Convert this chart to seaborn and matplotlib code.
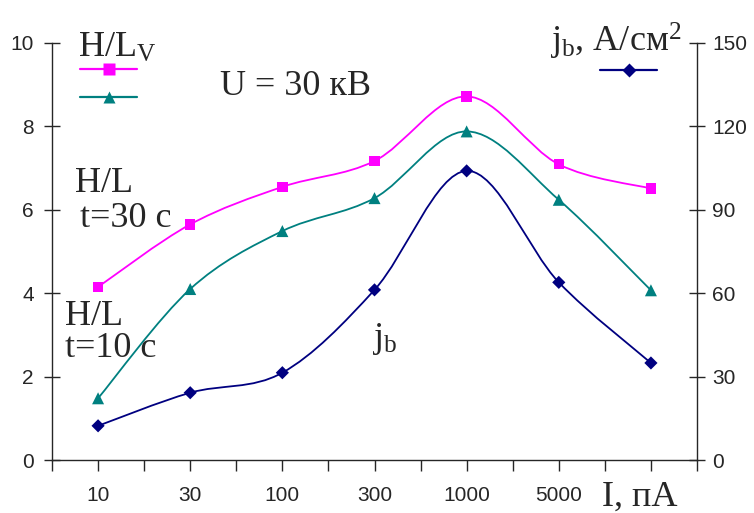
import matplotlib
matplotlib.use("Agg")
import matplotlib.pyplot as plt
from matplotlib.path import Path
from matplotlib.patches import PathPatch
from matplotlib.lines import Line2D
import numpy as np
import pandas as pd
import seaborn as sns

# Data
currents = ["10", "30", "100", "300", "1000", "5000", ""]
hl_30s = [4.15, 5.65, 6.55, 7.17, 8.72, 7.09, 6.51]
hl_10s = [1.48, 4.10, 5.49, 6.28, 7.88, 6.24, 4.07]
jb = [12.3, 24.2, 31.4, 61.2, 104.0, 63.9, 34.9]

MAGENTA = "#FF00FF"
TEAL = "#008080"
NAVY = "#000080"
SANS = "Liberation Sans"
SERIF = "Liberation Serif"

sns.set_style("ticks")
plt.rcParams["font.family"] = SANS
plt.rcParams["mathtext.fontset"] = "custom"
plt.rcParams["mathtext.rm"] = SERIF
plt.rcParams["mathtext.it"] = SERIF + ":italic"

df = pd.DataFrame({"pos": np.arange(len(currents)) + 0.5,
                   "current": currents,
                   "hl_30s": hl_30s,
                   "hl_10s": hl_10s,
                   "jb": jb})


def smooth_curve(ax, x, y, color):
    """Excel-like smoothed line (cubic Bezier through the points)."""
    pts = np.column_stack([x, y]).astype(float)
    n = len(pts)
    verts = [pts[0]]
    codes = [Path.MOVETO]
    for i in range(n - 1):
        p0 = pts[max(i - 1, 0)]
        p1 = pts[i]
        p2 = pts[i + 1]
        p3 = pts[min(i + 2, n - 1)]
        verts += [p1 + (p2 - p0) / 6, p2 - (p3 - p1) / 6, p2]
        codes += [Path.CURVE4] * 3
    ax.add_patch(PathPatch(Path(verts, codes), facecolor="none",
                           edgecolor=color, lw=1.3, zorder=2))


fig = plt.figure(figsize=(7.54, 5.13), dpi=100)
ax = fig.add_axes([52 / 754, 1 - 460 / 513, 645 / 754, 417 / 513])
ax2 = ax.twinx()

smooth_curve(ax, df.pos, df.hl_30s, MAGENTA)
smooth_curve(ax, df.pos, df.hl_10s, TEAL)
smooth_curve(ax2, df.pos, df.jb, NAVY)

sns.scatterplot(data=df, x="pos", y="hl_30s", marker="s", s=55,
                color=MAGENTA, edgecolor="none", ax=ax, zorder=3)
sns.scatterplot(data=df, x="pos", y="hl_10s", marker="^", s=75,
                color=TEAL, edgecolor="none", ax=ax, zorder=3)
sns.scatterplot(data=df, x="pos", y="jb", marker="D", s=45,
                color=NAVY, edgecolor="none", ax=ax2, zorder=3)

ax.set_xlim(0, 7)
ax.set_ylim(0, 10)
ax2.set_ylim(0, 150)
ax.set_yticks(np.arange(0, 11, 2))
ax2.set_yticks(np.arange(0, 151, 30))
ax.set_xticks(np.arange(0, 7.01, 0.5))
xlabels = []
for i in range(15):
    xlabels.append(currents[i // 2] if i % 2 == 1 else "")
ax.set_xticklabels(xlabels)
for a in (ax, ax2):
    a.set_xlabel("")
    a.set_ylabel("")
    a.spines["top"].set_visible(False)
    a.patch.set_visible(False)
ax.spines["right"].set_visible(False)
ax2.spines["left"].set_visible(False)
ax2.spines["bottom"].set_visible(False)
for sp in ("left", "bottom"):
    ax.spines[sp].set_linewidth(1.0)
ax2.spines["right"].set_linewidth(1.0)
ax.tick_params(axis="x", direction="out", length=8, width=1.0,
               labelsize=15, pad=11)
ax.tick_params(axis="y", direction="inout", length=12, width=1.0,
               labelsize=15, pad=7)
ax2.tick_params(axis="y", direction="inout", length=12, width=1.0,
                labelsize=15, pad=5)


def ftext(x, y, s, **kw):
    fig.text(x / 754, 1 - y / 513, s, family=SERIF, fontsize=26,
             va="baseline", ha="left", **kw)


ftext(78, 57, r"H/L$_\mathrm{V}$")
ftext(220, 95, "U = 30 кВ")
ftext(550, 52, r"j$_\mathrm{b}$, A/см$^\mathrm{2}$")
ftext(75, 192, "H/L")
ftext(80, 227, "t=30 c")
ftext(65, 325, "H/L")
ftext(65, 357, "t=10 c")
ftext(372, 347, r"j$_\mathrm{b}$")
ftext(602, 506, "I, пА")

# legend samples
for (x0, x1, y, color, marker, ms) in [(80, 137, 69, MAGENTA, "s", 8),
                                       (80, 137, 97, TEAL, "^", 9),
                                       (600, 657, 70, NAVY, "D", 7)]:
    fig.add_artist(Line2D([x0 / 754, x1 / 754], [1 - y / 513, 1 - y / 513],
                          color=color, lw=1.6, transform=fig.transFigure))
    fig.add_artist(Line2D([(x0 + x1) / 2 / 754], [1 - y / 513],
                          color=color, marker=marker, ms=ms, mec="none",
                          transform=fig.transFigure))

fig.savefig("out.png", dpi=100)
